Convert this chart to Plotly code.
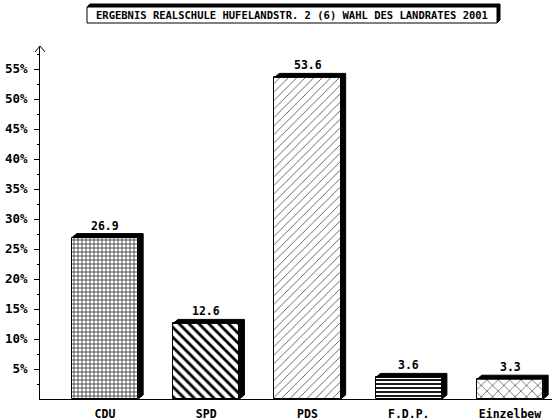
import plotly.graph_objects as go

# ---- data ----
categories = ["CDU", "SPD", "PDS", "F.D.P.", "Einzelbew"]
values = [26.9, 12.6, 53.6, 3.6, 3.3]
value_labels = ["26.9", "12.6", "53.6", "3.6", "3.3"]
pattern_shapes = ["+", "\\", "/", "-", "x"]
pattern_sizes = [4, 7, 6, 4, 8]
pattern_solidity = [0.3, 0.4, 0.1, 0.45, 0.12]
y_tick_values = [5, 10, 15, 20, 25, 30, 35, 40, 45, 50, 55]
y_tick_labels = ["5%", "10%", "15%", "20%", "25%", "30%", "35%", "40%", "45%", "50%", "55%"]
title_text = "ERGEBNIS REALSCHULE HUFELANDSTR. 2 (6) WAHL DES LANDRATES 2001"

# ---- layout geometry ----
W, H = 552, 420
ML, MR, MT, MB = 40, 0, 46, 21
PW, PH = W - ML - MR, H - MT - MB
X0 = -0.642
PX_PER_X = 101.25
X1 = X0 + PW / PX_PER_X
PX_PER_Y = 6.0
Y1 = PH / PX_PER_Y
BAR_W = 0.655
DEPTH_PX = (5, 4)
dx = DEPTH_PX[0] / PX_PER_X
dy = DEPTH_PX[1] / PX_PER_Y

FONT = "DejaVu Sans Mono"

def px2paper(px, py):
    return (px - ML) / PW, 1 + (MT - py) / PH

fig = go.Figure()
xs = list(range(len(categories)))
for i, (c, v) in enumerate(zip(categories, values)):
    fig.add_trace(go.Bar(
        x=[i], y=[v], width=BAR_W, name=c, showlegend=False,
        marker=dict(color="white", line=dict(color="black", width=1),
                    pattern=dict(shape=pattern_shapes[i], size=pattern_sizes[i],
                                 solidity=pattern_solidity[i], fgcolor="black",
                                 bgcolor="white", fillmode="replace")),
        hoverinfo="skip",
    ))

shapes = []
annotations = []
for i, v in enumerate(values):
    xl, xr = i - BAR_W / 2, i + BAR_W / 2
    path = (f"M{xl},{v} L{xl+dx},{v+dy} L{xr+dx},{v+dy} L{xr+dx},{dy} "
            f"L{xr},0 L{xr},{v} Z")
    shapes.append(dict(type="path", xref="x", yref="y", path=path,
                       fillcolor="black", line=dict(color="black", width=1)))
    annotations.append(dict(x=i, y=v, xref="x", yref="y", text=value_labels[i],
                            showarrow=False, yshift=12,
                            font=dict(family=FONT, size=11.5, color="black", weight="bold")))

# y-axis arrowhead
a1 = px2paper(35, 52); a2 = px2paper(40, 46); a3 = px2paper(45, 52)
shapes.append(dict(type="path", xref="paper", yref="paper",
                   path=f"M{a1[0]},{a1[1]} L{a2[0]},{a2[1]} L{a3[0]},{a3[1]}",
                   line=dict(color="black", width=1)))

# title box with 3D shadow
bx0, by0, bx1, by1 = 87, 7, 497, 23
sd = 3
p = [px2paper(bx0, by0), px2paper(bx0 + sd, by0 - sd), px2paper(bx1 + sd, by0 - sd),
     px2paper(bx1 + sd, by1 - sd), px2paper(bx1, by1), px2paper(bx1, by0)]
shapes.append(dict(type="path", xref="paper", yref="paper",
                   path="M" + " L".join(f"{a},{b}" for a, b in p) + " Z",
                   fillcolor="black", line=dict(color="black", width=1)))
r0 = px2paper(bx0, by1); r1 = px2paper(bx1, by0)
shapes.append(dict(type="rect", xref="paper", yref="paper",
                   x0=r0[0], y0=r0[1], x1=r1[0], y1=r1[1],
                   fillcolor="white", line=dict(color="black", width=1)))
tc = px2paper((bx0 + bx1) / 2, (by0 + by1) / 2 + 0.5)
annotations.append(dict(x=tc[0], y=tc[1], xref="paper", yref="paper", text=title_text,
                        showarrow=False, xanchor="center", yanchor="middle",
                        font=dict(family=FONT, size=10.5, color="black", weight="bold")))

fig.update_layout(
    width=W, height=H,
    margin=dict(l=ML, r=MR, t=MT, b=MB),
    paper_bgcolor="white", plot_bgcolor="white",
    shapes=shapes, annotations=annotations,
    bargap=0,
    xaxis=dict(range=[X0, X1], tickvals=xs, ticktext=categories,
               showgrid=False, zeroline=False, showline=True,
               linecolor="black", linewidth=1, ticks="", ticklabelstandoff=4,
               tickfont=dict(family=FONT, size=11.5, color="black", weight="bold"),
               fixedrange=True, automargin=False),
    yaxis=dict(range=[0, Y1], tickvals=y_tick_values, ticktext=y_tick_labels,
               showgrid=False, zeroline=False, showline=True,
               linecolor="black", linewidth=1, ticks="outside", ticklen=5,
               tickcolor="black", tickwidth=1, ticklabelstandoff=4,
               minor=dict(tickvals=[v - 2.5 for v in y_tick_values] + [57.5],
                          ticks="outside", ticklen=2, tickcolor="black"),
               tickfont=dict(family=FONT, size=12.5, color="black", weight="bold"),
               fixedrange=True, automargin=False),
)

fig.write_html("out.html", config={"displayModeBar": False},
               post_script="document.body.style.margin='0px';document.body.style.padding='0px';")
